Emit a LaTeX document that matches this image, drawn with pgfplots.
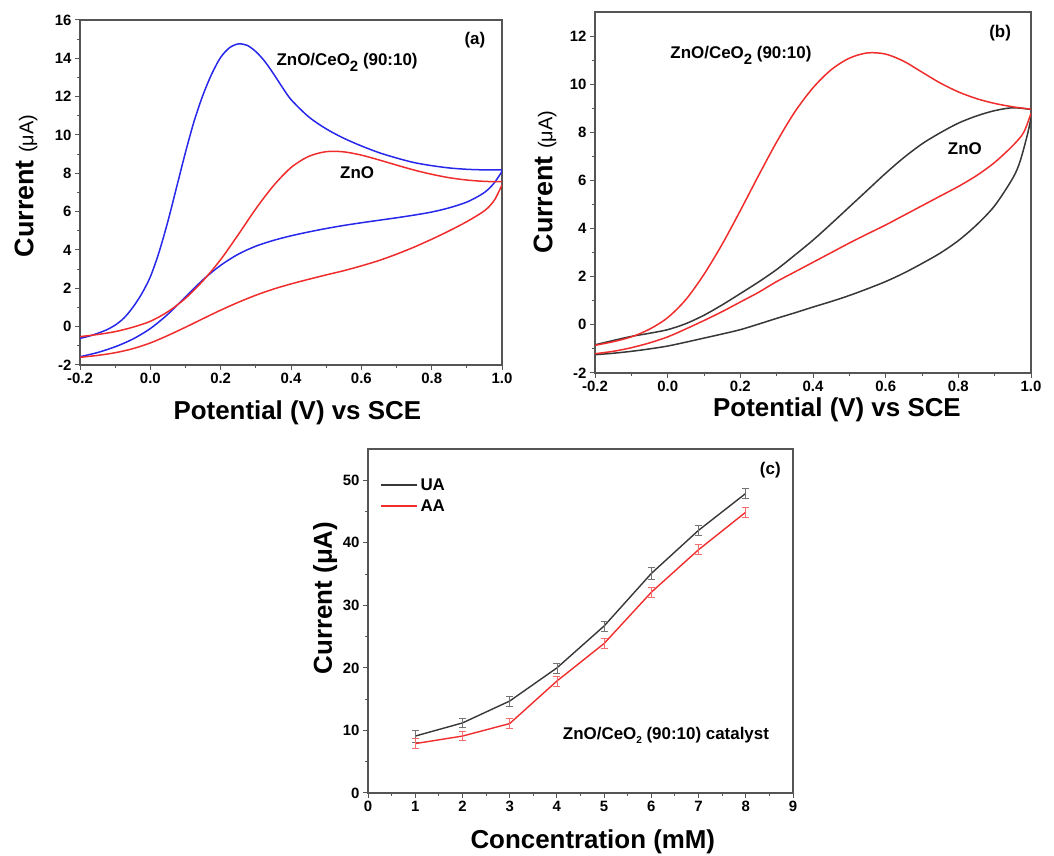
\documentclass[border=0pt]{standalone}
\usepackage{fontspec}
\setmainfont{Liberation Sans}
\usepackage{pgfplots}
\pgfplotsset{compat=1.18}
\definecolor{cvblue}{RGB}{40,40,235}
\definecolor{cvred}{RGB}{240,45,45}
\definecolor{cvblack}{RGB}{55,55,55}
\definecolor{axgray}{RGB}{85,85,85}
\pgfplotsset{
  cvstyle/.style={
    scale only axis,
    axis line style={line width=1.3bp, draw=axgray},
    tick align=outside, tick pos=left,
    major tick length=5bp, minor tick length=3bp,
    every tick/.style={line width=1bp, axgray},
    minor tick num=1,
    tick label style={font=\fontsize{15}{17}\selectfont\bfseries},
    /pgf/number format/assume math mode=true,
  },
  cvx/.style={xmin=-0.2, xmax=1.0, xtick={-0.2,0,0.2,0.4,0.6,0.8,1.0},
    xticklabel style={/pgf/number format/.cd, fixed, fixed zerofill, precision=1}},
  cvline/.style={line width=1.5bp, smooth, tension=0.5},
}
\begin{document}
\begin{tikzpicture}[x=1bp,y=1bp]
\useasboundingbox (0,0) rectangle (1054,856);
% ---------------- (a)
\begin{axis}[cvstyle, cvx, at={(80bp,491bp)}, anchor=south west,
  width=422bp, height=345bp,
  ymin=-2, ymax=16, ytick={-2,0,...,16},
  xlabel={\fontsize{26}{30}\selectfont\bfseries Potential (V) vs SCE},
  ylabel={\fontsize{27}{30}\selectfont\bfseries Current \fontsize{20}{24}\selectfont\mdseries(μA)},
  xlabel style={at={(axis description cs:0.515,-0.139)}, anchor=center},
  ylabel style={at={(axis description cs:-0.128,0.519)}, anchor=center},
]
% ZnO/CeO2, forward
\addplot[cvblue, cvline] coordinates {
(-0.2,-0.61) (-0.175,-0.5) (-0.15,-0.35) (-0.125,-0.17) (-0.1,0.08) (-0.075,0.45)
(-0.05,1.0) (-0.025,1.7) (0.0,2.6) (0.025,3.9) (0.05,5.5) (0.075,7.3) (0.1,9.1)
(0.125,10.75) (0.15,12.1) (0.175,13.2) (0.2,14.05) (0.225,14.55) (0.25,14.75)
(0.275,14.68) (0.3,14.35) (0.325,13.85) (0.35,13.2) (0.375,12.5) (0.4,11.85)
(0.45,10.95) (0.5,10.32) (0.55,9.83) (0.6,9.43) (0.65,9.08) (0.7,8.8) (0.75,8.56)
(0.8,8.4) (0.85,8.28) (0.9,8.21) (0.95,8.18) (1.0,8.18)};
% ZnO/CeO2, reverse
\addplot[cvblue, cvline] coordinates {
(1.0,8.1) (0.98,7.55) (0.96,7.15) (0.94,6.88) (0.9,6.5) (0.85,6.2) (0.8,5.98)
(0.75,5.82) (0.7,5.68) (0.65,5.55) (0.6,5.42) (0.55,5.28) (0.5,5.12) (0.45,4.94)
(0.4,4.74) (0.35,4.5) (0.3,4.2) (0.25,3.78) (0.2,3.2) (0.15,2.45) (0.1,1.55)
(0.05,0.65) (0.0,-0.1) (-0.05,-0.65) (-0.1,-1.05) (-0.15,-1.35) (-0.2,-1.57)};
% ZnO, forward
\addplot[cvred, cvline] coordinates {
(-0.2,-0.52) (-0.15,-0.41) (-0.1,-0.26) (-0.05,-0.03) (0.0,0.28) (0.05,0.78)
(0.1,1.48) (0.15,2.4) (0.2,3.5) (0.25,4.8) (0.3,6.15) (0.35,7.35) (0.4,8.3)
(0.45,8.88) (0.5,9.13) (0.55,9.12) (0.6,8.95) (0.65,8.7) (0.7,8.43) (0.75,8.17)
(0.8,7.95) (0.85,7.77) (0.9,7.65) (0.95,7.58) (1.0,7.56)};
% ZnO, reverse
\addplot[cvred, cvline] coordinates {
(1.0,7.4) (0.98,6.65) (0.96,6.2) (0.94,5.92) (0.9,5.48) (0.85,5.0) (0.8,4.56)
(0.75,4.15) (0.7,3.78) (0.65,3.45) (0.6,3.17) (0.55,2.92) (0.5,2.7) (0.45,2.47)
(0.4,2.23) (0.35,1.96) (0.3,1.64) (0.25,1.27) (0.2,0.86) (0.15,0.42) (0.1,-0.03)
(0.05,-0.46) (0.0,-0.85) (-0.05,-1.15) (-0.1,-1.36) (-0.15,-1.5) (-0.2,-1.6)};
\node[anchor=west, font=\fontsize{17}{20}\selectfont\bfseries] at (axis cs:0.349,13.8)
  {ZnO/CeO\raisebox{-0.35em}{\fontsize{15}{15}\selectfont 2} (90:10)};
\node[font=\fontsize{17}{20}\selectfont\bfseries] at (axis cs:0.588,8.02) {ZnO};
\node[font=\fontsize{17}{20}\selectfont\bfseries] at (axis cs:0.923,14.96) {(a)};
\end{axis}
% ---------------- (b)
\begin{axis}[cvstyle, cvx, at={(595bp,483bp)}, anchor=south west,
  width=436bp, height=361bp,
  ymin=-2, ymax=13, ytick={-2,0,...,12},
  xlabel={\fontsize{26}{30}\selectfont\bfseries Potential (V) vs SCE},
  ylabel={\fontsize{27}{30}\selectfont\bfseries Current \fontsize{20}{24}\selectfont\mdseries(μA)},
  xlabel style={at={(axis description cs:0.555,-0.1025)}, anchor=center},
  ylabel style={at={(axis description cs:-0.1147,0.529)}, anchor=center},
]
% ZnO, forward
\addplot[cvblack, cvline] coordinates {
(-0.2,-0.83) (-0.15,-0.65) (-0.1,-0.48) (-0.05,-0.35) (0.0,-0.2) (0.05,0.05)
(0.1,0.4) (0.15,0.83) (0.2,1.3) (0.25,1.78) (0.3,2.3) (0.35,2.9) (0.4,3.52)
(0.45,4.2) (0.5,4.9) (0.55,5.6) (0.6,6.3) (0.65,6.95) (0.7,7.52) (0.75,7.98)
(0.8,8.38) (0.85,8.68) (0.9,8.9) (0.95,9.02) (1.0,8.95)};
% ZnO, reverse
\addplot[cvblack, cvline] coordinates {
(1.0,8.6) (0.99,7.9) (0.97,6.8) (0.95,6.1) (0.9,4.95) (0.85,4.15) (0.8,3.5)
(0.75,2.98) (0.7,2.55) (0.65,2.15) (0.6,1.8) (0.55,1.5) (0.5,1.22) (0.45,0.97)
(0.4,0.74) (0.35,0.5) (0.3,0.27) (0.25,0.03) (0.2,-0.2) (0.15,-0.38) (0.1,-0.55)
(0.05,-0.72) (0.0,-0.88) (-0.05,-1.0) (-0.1,-1.1) (-0.15,-1.18) (-0.2,-1.24)};
% ZnO/CeO2, forward
\addplot[cvred, cvline] coordinates {
(-0.2,-0.85) (-0.15,-0.7) (-0.1,-0.5) (-0.05,-0.18) (0.0,0.3) (0.05,1.05)
(0.1,2.1) (0.15,3.35) (0.2,4.75) (0.25,6.2) (0.3,7.6) (0.35,8.85) (0.4,9.85)
(0.45,10.6) (0.5,11.08) (0.55,11.3) (0.6,11.25) (0.65,10.95) (0.7,10.5)
(0.75,10.05) (0.8,9.68) (0.85,9.4) (0.9,9.2) (0.95,9.06) (1.0,8.96)};
% ZnO/CeO2, reverse
\addplot[cvred, cvline] coordinates {
(1.0,8.8) (0.98,8.0) (0.95,7.45) (0.9,6.75) (0.85,6.2) (0.8,5.75) (0.75,5.35)
(0.7,4.95) (0.65,4.55) (0.6,4.15) (0.55,3.78) (0.5,3.4) (0.45,3.0) (0.4,2.6)
(0.35,2.2) (0.3,1.8) (0.25,1.35) (0.2,0.95) (0.15,0.55) (0.1,0.18) (0.05,-0.17)
(0.0,-0.5) (-0.05,-0.75) (-0.1,-0.95) (-0.15,-1.1) (-0.2,-1.2)};
\node[anchor=west, font=\fontsize{17}{20}\selectfont\bfseries] at (axis cs:-0.002,11.21)
  {ZnO/CeO\raisebox{-0.35em}{\fontsize{15}{15}\selectfont 2} (90:10)};
\node[font=\fontsize{17}{20}\selectfont\bfseries] at (axis cs:0.818,7.3) {ZnO};
\node[font=\fontsize{17}{20}\selectfont\bfseries] at (axis cs:0.915,12.12) {(b)};
\end{axis}
% ---------------- (c)
\begin{axis}[cvstyle, at={(368bp,63bp)}, anchor=south west,
  width=425bp, height=344bp,
  xmin=0, xmax=9, xtick={0,...,9},
  ymin=0, ymax=55, ytick={0,10,...,50},
  xlabel={\fontsize{26}{30}\selectfont\bfseries Concentration (mM)},
  ylabel={\fontsize{26}{30}\selectfont\bfseries Current (μA)},
  xlabel style={at={(axis description cs:0.529,-0.142)}, anchor=center},
  ylabel style={at={(axis description cs:-0.101,0.567)}, anchor=center},
  legend style={at={(axis description cs:0.028,0.918)}, anchor=north west,
    draw=none, fill=none, font=\fontsize{17}{20}\selectfont\bfseries,
    inner sep=0pt, row sep=6bp, nodes={inner xsep=3bp, inner ysep=1bp}},
  legend cell align=left,
  legend image code/.code={\draw[#1] (0bp,0bp) -- (36bp,0bp);},
]
\addplot[cvblack, line width=1.4bp,
  error bars/.cd, y dir=both, y explicit,
  error bar style={line width=0.6bp, black!55},
  error mark options={rotate=90, mark size=3.5bp, line width=0.6bp, black!55}]
coordinates {
(1,9.1) +- (0,1.0) (2,11.2) +- (0,0.7) (3,14.7) +- (0,0.8) (4,20.0) +- (0,0.8)
(5,26.7) +- (0,0.8) (6,35.1) +- (0,1.0) (7,42.0) +- (0,0.8) (8,47.9) +- (0,0.8)};
\addplot[cvred, line width=1.4bp,
  error bars/.cd, y dir=both, y explicit,
  error bar style={line width=0.6bp, cvred!70},
  error mark options={rotate=90, mark size=3.5bp, line width=0.6bp, cvred!70}]
coordinates {
(1,7.9) +- (0,0.8) (2,9.1) +- (0,0.7) (3,11.1) +- (0,0.8) (4,17.9) +- (0,0.8)
(5,23.9) +- (0,0.8) (6,32.1) +- (0,0.8) (7,38.9) +- (0,0.8) (8,44.9) +- (0,0.8)};
\legend{UA,AA}
\node[font=\fontsize{17}{20}\selectfont\bfseries] at (axis cs:8.52,51.6) {(c)};
\node[font=\fontsize{17}{20}\selectfont\bfseries] at (axis cs:6.31,9.27)
  {ZnO/CeO\raisebox{-0.25em}{\fontsize{10}{10}\selectfont 2} (90:10) catalyst};
\end{axis}
\end{tikzpicture}
\end{document}
